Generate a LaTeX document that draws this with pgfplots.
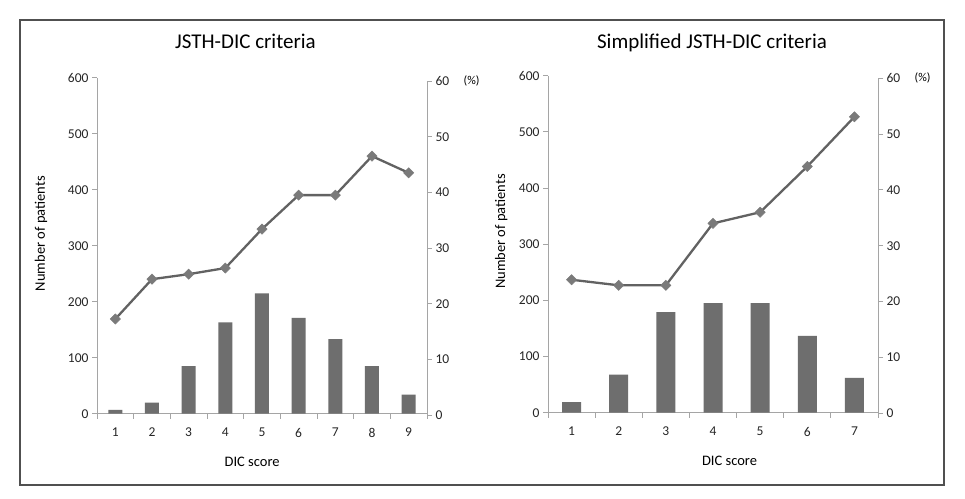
\documentclass[border=0pt]{standalone}
\usepackage{pgfplots}
\pgfplotsset{compat=1.18}
\usepackage{fontspec}
\setmainfont{Carlito}
\definecolor{barc}{RGB}{110,110,110}
\definecolor{linec}{RGB}{98,98,98}
\definecolor{markc}{RGB}{122,122,122}
\definecolor{axc}{RGB}{165,165,165}
\definecolor{framec}{RGB}{80,80,80}
\pgfplotsset{
 base/.style={
  scale only axis, width=330pt,
  anchor=south west,
  axis line style={axc, line width=0.8pt},
  tick style={axc, line width=0.8pt},
  major tick length=5pt,
  tick align=outside,
  tick label style={font=\fontsize{13.5}{13.5}\selectfont, text=black!85},
  /pgf/number format/assume math mode=true,
  label style={font=\fontsize{14.5}{14.5}\selectfont},
  title style={font=\fontsize{21}{21}\selectfont, anchor=base},
 },
 barax/.style={
  base, ymin=0, ymax=600,
  axis x line*=bottom, axis y line*=left,
  ytick={0,100,...,600},
  xticklabels={},
  extra x tick style={tick style={draw=none}, tick label style={yshift=-6pt}},
  ybar,
  ylabel={Number of patients},
  xlabel={DIC score},
 },
 lineax/.style={
  base, ymin=0, ymax=60, clip=false,
  axis x line=none, axis y line*=right,
  ytick={0,10,...,60},
 },
 lineplot/.style={linec, line width=2.3pt, mark=square*, mark size=3.6pt,
  mark options={rotate=45, fill=markc, draw=markc, line width=0.5pt}},
}
\begin{document}
\begin{tikzpicture}
\fill[white] (0pt,0pt) rectangle (965pt,498pt);
\draw[framec, line width=1.5pt] (20pt,13pt) rectangle (944pt,478pt);
% Left chart
\begin{axis}[barax, at={(97pt,84.3pt)}, height=336pt, xmin=0.5, xmax=9.5,
 xtick={0.5,1.5,...,9.5}, extra x ticks={1,2,...,9},
 bar width=14pt,
 ylabel style={at={(axis description cs:-0.17,0.536)}, anchor=center},
 xlabel style={at={(axis description cs:0.47,-0.143)}, anchor=center},
 title={JSTH-DIC criteria}, title style={at={(axis description cs:0.45,1.0676)}}]
\addplot[fill=barc, draw=none] coordinates {(1,7)(2,20)(3,85)(4,163)(5,215)(6,171)(7,133)(8,85)(9,34)};
\end{axis}
\begin{axis}[lineax, at={(97pt,83pt)}, height=334pt, xmin=0.5, xmax=9.5]
\addplot[lineplot] coordinates {(1,17.25)(2,24.4)(3,25.3)(4,26.4)(5,33.4)(6,39.5)(7,39.5)(8,46.5)(9,43.5)};
\node[font=\fontsize{12}{12}\selectfont] at (axis description cs:1.135,1.0) {(\%)};
\end{axis}
% Right chart
\begin{axis}[barax, at={(548pt,85.3pt)}, height=337pt, xmin=0.5, xmax=7.5,
 xtick={0.5,1.5,...,7.5}, extra x ticks={1,2,...,7},
 bar width=19pt,
 ylabel style={at={(axis description cs:-0.142,0.538)}, anchor=center},
 xlabel style={at={(axis description cs:0.55,-0.143)}, anchor=center},
 title={Simplified JSTH-DIC criteria}, title style={at={(axis description cs:0.497,1.064)}}]
\addplot[fill=barc, draw=none] coordinates {(1,19)(2,68)(3,179)(4,195)(5,195)(6,137)(7,62)};
\end{axis}
\begin{axis}[lineax, at={(548pt,84.9pt)}, height=334.8pt, xmin=0.5, xmax=7.5]
\addplot[lineplot] coordinates {(1,23.9)(2,22.9)(3,22.9)(4,34.0)(5,36.0)(6,44.2)(7,53.1)};
\node[font=\fontsize{12}{12}\selectfont] at (axis description cs:1.135,1.0) {(\%)};
\end{axis}
\end{tikzpicture}
\end{document}
